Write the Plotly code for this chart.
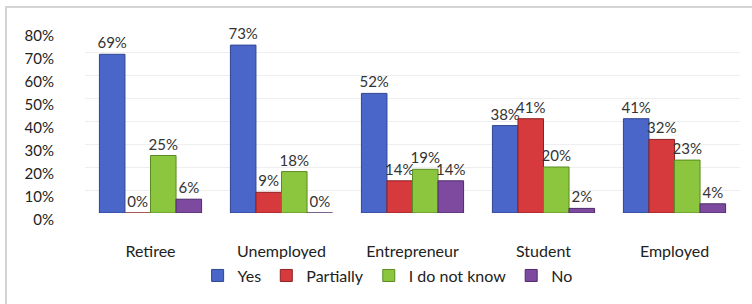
import plotly.graph_objects as go

categories = ["Retiree", "Unemployed", "Entrepreneur", "Student", "Employed"]
yes = [0.69, 0.73, 0.52, 0.38, 0.41]
partially = [0.00, 0.09, 0.14, 0.41, 0.32]
dont_know = [0.25, 0.18, 0.19, 0.20, 0.23]
no = [0.06, 0.00, 0.14, 0.02, 0.04]

series = [
    ("Yes", yes, "#4a66c8", "#2f4591"),
    ("Partially", partially, "#d63a3c", "#8f2022"),
    ("I do not know", dont_know, "#8cc63f", "#5a8a22"),
    ("No", no, "#7d4aa0", "#4e2a6a"),
]

fig = go.Figure()
for name, vals, col, edge in series:
    fig.add_trace(go.Bar(
        name=name, x=categories, y=vals,
        marker=dict(color=col, line=dict(color=edge, width=1)),
        text=[f"{round(v*100)}%" for v in vals],
        textposition="outside", cliponaxis=False, constraintext="none",
        textfont=dict(size=15, color="#333333", family="Lato"),
    ))

fig.update_layout(
    width=752, height=304,
    margin=dict(l=85, r=12, t=29, b=83),
    paper_bgcolor="white", plot_bgcolor="white",
    barmode="group", bargap=0.22, bargroupgap=0,
    font=dict(family="Lato", size=15, color="#222222"),
    showlegend=True,
    legend=dict(orientation="h", x=0.462, xanchor="center", y=-0.34, yanchor="middle",
                font=dict(size=16, color="#222222"), itemwidth=30),
    yaxis=dict(range=[0, 0.8], dtick=0.1, tickformat=".0%", showgrid=True,
               gridcolor="#eeeeee", zeroline=False, ticklabelstandoff=30,
               ticklabelshift=7,
               showline=False, automargin=False, tickfont=dict(size=15)),
    xaxis=dict(showgrid=False, showline=False, ticks="", ticklabelstandoff=27,
               automargin=False, tickfont=dict(size=16)),
    shapes=[dict(type="rect", xref="paper", yref="paper",
                 x0=-0.1206, x1=1.2, y0=-0.7, y1=1.12,
                 line=dict(color="#d4d4d4", width=2), fillcolor="rgba(0,0,0,0)", layer="below")],
)

fig.write_html(
    "out.html",
    config={"displayModeBar": False},
    post_script=(
        "document.documentElement.style.margin='0';"
        "document.documentElement.style.overflow='hidden';"
        "document.body.style.margin='0';"
        "document.body.style.overflow='hidden';"
    ),
)
